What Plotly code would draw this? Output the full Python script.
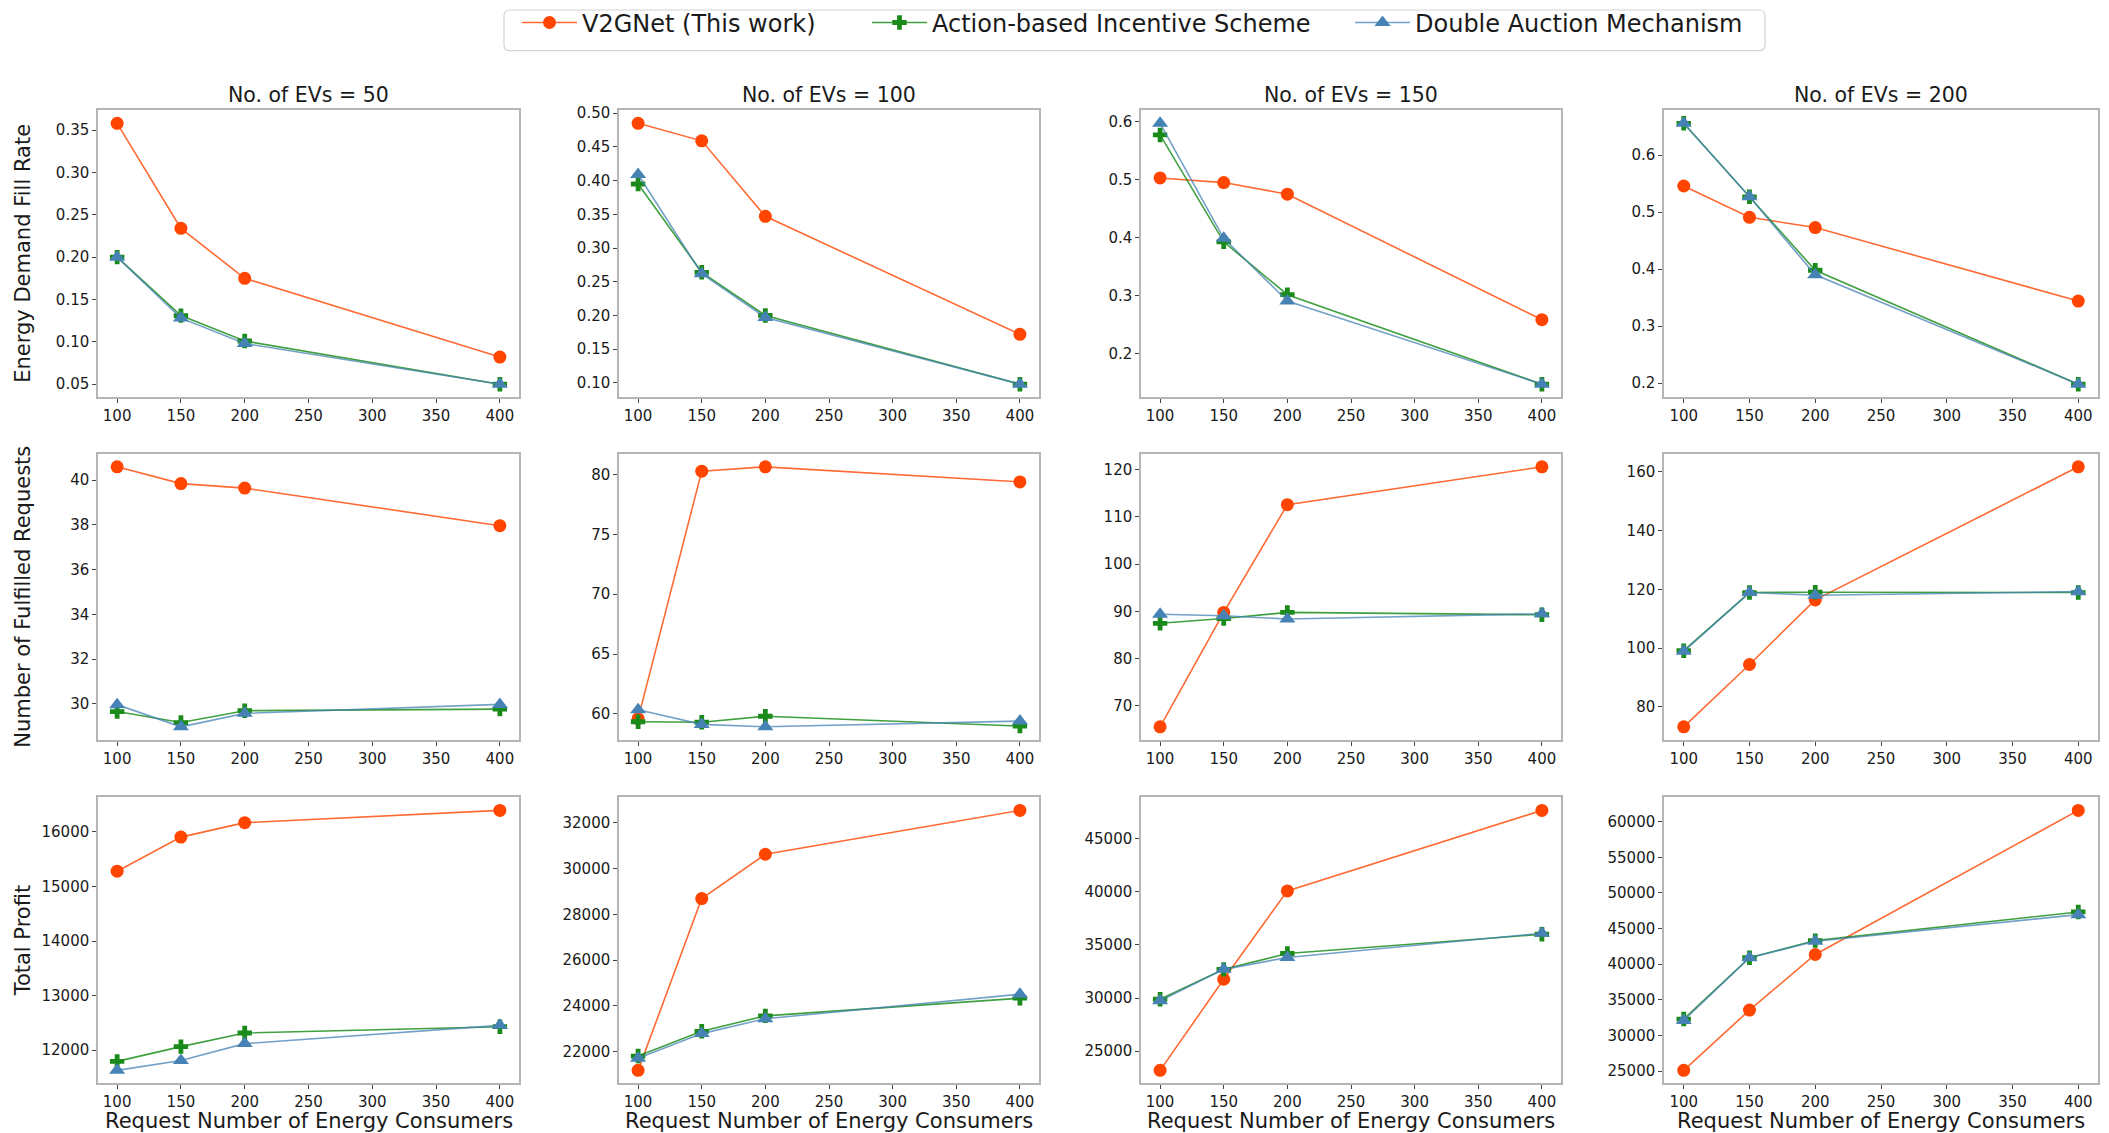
import plotly.graph_objects as go
from plotly.subplots import make_subplots

# ---------------- data ----------------
x_requests = [100, 150, 200, 400]
ev_counts = [50, 100, 150, 200]
series_names = ["V2GNet (This work)", "Action-based Incentive Scheme", "Double Auction Mechanism"]
row_titles = ["Energy Demand Fill Rate", "Number of Fulfilled Requests", "Total Profit"]
x_title = "Request Number of Energy Consumers"
x_tick_labels = [100, 150, 200, 250, 300, 350, 400]

# Energy demand fill rate (one list per EV count)
fill_v2g = [[0.358, 0.234, 0.175, 0.082], [0.485, 0.459, 0.347, 0.172],
            [0.503, 0.495, 0.475, 0.259], [0.546, 0.491, 0.473, 0.344]]
fill_action = [[0.200, 0.131, 0.101, 0.050], [0.395, 0.264, 0.200, 0.098],
               [0.577, 0.393, 0.302, 0.148], [0.656, 0.527, 0.398, 0.198]]
fill_double = [[0.200, 0.128, 0.098, 0.050], [0.409, 0.262, 0.197, 0.098],
               [0.597, 0.399, 0.291, 0.148], [0.656, 0.527, 0.390, 0.198]]

# Number of fulfilled requests
req_v2g = [[40.59, 39.84, 39.64, 37.96], [59.6, 80.28, 80.64, 79.38],
           [65.6, 89.8, 112.6, 120.6], [73.2, 94.4, 116.4, 161.7]]
req_action = [[29.66, 29.17, 29.70, 29.77], [59.34, 59.30, 59.80, 58.98],
              [87.5, 88.5, 89.8, 89.3], [99.1, 118.9, 119.0, 118.9]]
req_double = [[29.97, 28.98, 29.58, 29.98], [60.34, 59.12, 58.92, 59.40],
              [89.4, 89.1, 88.4, 89.5], [98.9, 118.9, 118.0, 119.2]]

# Total profit
profit_v2g = [[15280, 15905, 16170, 16395], [21190, 28690, 30625, 32540],
              [23200, 31770, 40080, 47650], [25100, 33560, 41360, 61580]]
profit_action = [[11795, 12065, 12315, 12430], [21815, 22895, 23570, 24340],
                 [29890, 32700, 34190, 36000], [32300, 40900, 43310, 47330]]
profit_double = [[11630, 11810, 12120, 12455], [21715, 22795, 23445, 24515],
                 [29740, 32700, 33820, 36090], [32110, 40900, 43220, 46950]]

metrics = [
    (fill_v2g, fill_action, fill_double),
    (req_v2g, req_action, req_double),
    (profit_v2g, profit_action, profit_double),
]

# ---------------- styles ----------------
W, H = 2109, 1133
FONT = "DejaVu Sans"
TXT = "#1a1a1a"
col_px = [(98, 519), (619, 1039), (1141, 1561), (1664, 2098)]
row_px = [(103, 392), (449, 737), (795, 1083)]
y_dticks = [[0.05, 0.05, 0.1, 0.1], [2, 5, 10, 20], [1000, 2000, 5000, 5000]]
y_formats = [[".2f", ".2f", ".1f", ".1f"], ["d", "d", "d", "d"], ["d", "d", "d", "d"]]
legend_ids = ["legend", "legend2", "legend3"]
legend_left_px = [517, 867, 1350]
legend_box_px = (504, 2, 1765, 43)

styles = [
    dict(line="rgba(255,69,0,0.8)", marker="#FF4500", symbol="circle", size=13),
    dict(line="rgba(0,128,0,0.75)", marker="#1a8a1a", symbol="cross", size=12),
    dict(line="rgba(70,130,180,0.75)", marker="#4682B4", symbol="triangle-up", size=14),
]

fig = make_subplots(rows=3, cols=4)

for r in range(3):
    for c in range(4):
        series = [m[c] for m in metrics[r]]
        for k, vals in enumerate(series):
            st = styles[k]
            fig.add_trace(
                go.Scatter(
                    x=x_requests, y=vals, mode="lines+markers",
                    name=series_names[k],
                    legend=legend_ids[k],
                    showlegend=(r == 0 and c == 0),
                    line=dict(color=st["line"], width=1.6),
                    marker=dict(color=st["marker"], symbol=st["symbol"], size=st["size"],
                                line=dict(width=0)),
                ),
                row=r + 1, col=c + 1,
            )
        allv = [v for s in series for v in s]
        lo, hi = min(allv), max(allv)
        pad = 0.05 * (hi - lo)
        idx = r * 4 + c + 1
        xa = "xaxis" if idx == 1 else f"xaxis{idx}"
        ya = "yaxis" if idx == 1 else f"yaxis{idx}"
        x0, x1 = col_px[c]
        y0, y1 = row_px[r]
        fig.layout[xa].update(
            domain=[x0 / W, x1 / W],
            range=[85, 415], tickvals=x_tick_labels,
            showgrid=False, zeroline=False, showline=True, mirror=True,
            linecolor="#b5b5b5", linewidth=1.5,
            ticks="outside", ticklen=4, tickwidth=1, tickcolor="#444",
            tickfont=dict(family=FONT, size=15, color=TXT),
        )
        fig.layout[ya].update(
            domain=[1 - y1 / H, 1 - y0 / H],
            range=[lo - pad, hi + pad], tick0=0, dtick=y_dticks[r][c],
            tickformat=y_formats[r][c],
            showgrid=False, zeroline=False, showline=True, mirror=True,
            linecolor="#b5b5b5", linewidth=1.5,
            ticks="outside", ticklen=4, tickwidth=1, tickcolor="#444",
            tickfont=dict(family=FONT, size=15, color=TXT),
        )

annotations = []
for c, n in enumerate(ev_counts):
    x0, x1 = col_px[c]
    annotations.append(dict(
        text=f"No. of EVs = {n}", x=(x0 + x1) / 2 / W, y=1 - 88 / H,
        xref="paper", yref="paper", xanchor="center", yanchor="middle",
        showarrow=False, font=dict(family=FONT, size=20.5, color=TXT)))
    annotations.append(dict(
        text=x_title, x=(x0 + x1) / 2 / W, y=1 - 1121 / H,
        xref="paper", yref="paper", xanchor="center", yanchor="middle",
        showarrow=False, font=dict(family=FONT, size=21, color=TXT)))
for r, t in enumerate(row_titles):
    y0, y1 = row_px[r]
    annotations.append(dict(
        text=t, x=23 / W, y=1 - (y0 + y1) / 2 / H, textangle=-90,
        xref="paper", yref="paper", xanchor="center", yanchor="middle",
        showarrow=False, font=dict(family=FONT, size=21, color=TXT)))

# legend frame (rounded rectangle in paper coordinates)
bx0, by0, bx1, by1 = legend_box_px
rx, ry = 6 / W, 6 / H
X0, X1 = bx0 / W, bx1 / W
Y0, Y1 = 1 - by1 / H, 1 - by0 / H
box_path = (f"M{X0 + rx},{Y0} L{X1 - rx},{Y0} Q{X1},{Y0} {X1},{Y0 + ry} "
            f"L{X1},{Y1 - ry} Q{X1},{Y1} {X1 - rx},{Y1} L{X0 + rx},{Y1} "
            f"Q{X0},{Y1} {X0},{Y1 - ry} L{X0},{Y0 + ry} Q{X0},{Y0} {X0 + rx},{Y0} Z")

legend_common = dict(
    orientation="h", yanchor="middle", y=1 - 15 / H, xanchor="left",
    borderwidth=0, bgcolor="rgba(0,0,0,0)", itemwidth=55,
    font=dict(family=FONT, size=24, color=TXT),
)

fig.update_layout(
    width=W, height=H,
    margin=dict(l=0, r=0, t=0, b=0),
    paper_bgcolor="white", plot_bgcolor="white",
    font=dict(family=FONT, color=TXT),
    annotations=annotations,
    shapes=[dict(type="path", path=box_path, xref="paper", yref="paper",
                 line=dict(color="#d3d3d3", width=1.2), fillcolor="white", layer="below")],
    legend=dict(x=legend_left_px[0] / W, **legend_common),
    legend2=dict(x=legend_left_px[1] / W, **legend_common),
    legend3=dict(x=legend_left_px[2] / W, **legend_common),
)

fig.write_html(
    "out.html",
    config={"displayModeBar": False},
    post_script="document.body.style.margin='0';document.body.style.overflow='hidden';",
)
